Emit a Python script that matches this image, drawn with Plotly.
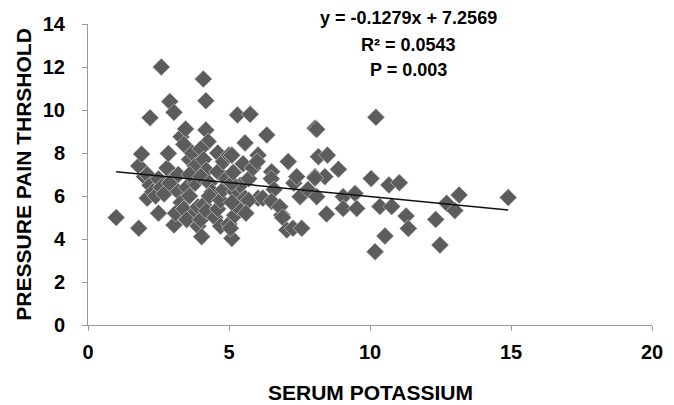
import plotly.graph_objects as go

serum_potassium = [
    1.0, 1.8, 1.8, 1.9, 2.0, 2.1, 2.2, 2.1, 2.2, 2.3, 2.4, 2.5, 2.6, 2.5, 2.6, 2.7,
    2.8, 2.9, 3.05, 2.85, 3.05, 3.0, 2.9, 3.1,
    3.2, 3.3, 3.46, 3.4, 3.2, 3.3, 3.4, 3.5, 3.6, 3.6, 3.7, 3.8, 3.8, 3.7, 3.9, 3.9, 3.5, 3.6,
    4.09, 4.18, 4.18, 4.26, 4.0, 4.1, 4.2, 4.0, 4.3, 4.4, 4.03, 4.0, 4.1, 4.2, 4.3, 4.6, 4.5,
    4.6, 4.7, 4.6, 4.8, 4.8, 4.9, 4.7,
    5.0, 5.1, 5.1, 5.0, 5.2, 5.3, 5.2, 5.4, 5.3, 5.57, 5.57, 5.5, 5.7, 5.85, 5.75, 6.03, 6.0,
    6.03, 5.7, 5.6, 6.2, 5.1, 5.15, 5.1, 5.05,
    6.34, 6.51, 6.5, 6.6, 6.51, 6.87, 6.8, 6.9, 7.1, 7.05, 7.27, 7.58, 7.3, 7.52, 7.4,
    7.8, 8.05, 8.11, 8.17, 8.49, 8.88, 8.05, 8.4, 8.11, 8.46, 8.05,
    9.05, 9.47, 9.05, 9.53, 10.21, 10.04, 10.67, 11.04, 10.35, 10.77, 11.28, 11.36, 10.53, 10.18,
    12.33, 12.48, 12.72, 13.01, 13.16, 14.9,
]
pressure_pain_threshold = [
    5.0, 4.5, 7.4, 7.95, 6.9, 7.0, 9.64, 5.9, 6.5, 6.2, 6.0, 5.2, 12.0, 6.8, 6.4, 6.1,
    7.3, 10.39, 9.89, 7.98, 4.65, 6.8, 6.6, 5.2,
    7.0, 8.76, 9.12, 8.4, 6.2, 5.7, 5.4, 6.4, 6.0, 7.7, 8.0, 7.4, 6.6, 5.1, 4.6, 5.5, 4.9, 7.0,
    11.44, 10.43, 9.07, 8.53, 8.2, 7.7, 7.2, 6.9, 6.6, 6.2, 4.11, 4.9, 5.6, 5.3, 6.0, 7.13, 5.0,
    5.4, 5.8, 8.0, 6.3, 7.6, 6.8, 4.6,
    7.9, 7.9, 4.03, 4.7, 5.1, 5.5, 6.2, 6.5, 9.77, 8.47, 5.9, 7.5, 6.8, 7.3, 9.8, 7.9, 7.6,
    5.9, 5.8, 5.2, 5.9, 6.6, 7.1, 5.7, 4.5,
    8.84, 7.13, 6.8, 6.3, 5.75, 5.12, 5.5, 5.0, 7.6, 4.42, 4.5, 4.5, 6.6, 5.97, 6.9,
    6.3, 9.15, 9.1, 7.83, 7.9, 7.24, 6.9, 6.9, 5.97, 5.16, 6.84,
    5.97, 6.12, 5.42, 5.42, 9.66, 6.81, 6.51, 6.62, 5.51, 5.51, 5.07, 4.49, 4.14, 3.41,
    4.91, 3.72, 5.66, 5.32, 6.05, 5.93,
]

slope = -0.1279
intercept = 7.2569
trend_x = [min(serum_potassium), max(serum_potassium)]
trend_y = [slope * v + intercept for v in trend_x]

x_ticks = [0, 5, 10, 15, 20]
y_ticks = [0, 2, 4, 6, 8, 10, 12, 14]
stat_lines = ["y = -0.1279x + 7.2569", "R² = 0.0543", "P = 0.003"]
stat_y = [1.02, 0.930, 0.847]
x_title = "SERUM POTASSIUM"
y_title = "PRESSURE PAIN THRSHOLD"

font_family = "Liberation Sans, Arial, sans-serif"
bold = lambda s: dict(family=font_family, size=s, color="black", weight="bold")

fig = go.Figure()
fig.add_trace(go.Scatter(
    x=serum_potassium, y=pressure_pain_threshold, mode="markers",
    marker=dict(symbol="diamond", size=13.5, color="#5c5c5c",
                line=dict(width=0.6, color="#d8d8d8")),
    showlegend=False, cliponaxis=False, hoverinfo="skip",
))
fig.add_trace(go.Scatter(
    x=trend_x, y=trend_y, mode="lines",
    line=dict(color="#111111", width=1.5), showlegend=False, hoverinfo="skip",
))

for txt, yy in zip(stat_lines, stat_y):
    fig.add_annotation(x=0.569, y=yy, xref="paper", yref="paper", text="<b>%s</b>" % txt,
                       showarrow=False, font=bold(18), yanchor="middle")

fig.add_annotation(x=0.5, y=-0.2226, xref="paper", yref="paper", text="<b>%s</b>" % x_title,
                   showarrow=False, font=bold(21), yanchor="middle")
fig.add_annotation(x=-0.115, y=0.5, xref="paper", yref="paper", text="<b>%s</b>" % y_title,
                   showarrow=False, font=bold(21), textangle=-90, xanchor="center")

axis_common = dict(
    showgrid=False, zeroline=False, showline=True, linecolor="#9a9a9a", linewidth=1,
    ticks="outside", tickcolor="#9a9a9a", ticklen=5, automargin=False,
    tickfont=bold(20),
)
fig.update_xaxes(range=[0, 20], tickvals=x_ticks, ticktext=["<b>%d</b>" % v for v in x_ticks],
                 ticklabelstandoff=4, **axis_common)
fig.update_yaxes(range=[0, 14], tickvals=y_ticks, ticktext=["<b>%d</b>" % v for v in y_ticks],
                 ticklabelstandoff=13, **axis_common)

fig.update_layout(
    width=674, height=405,
    margin=dict(l=88, r=22, t=24, b=80),
    plot_bgcolor="white", paper_bgcolor="white",
)

fig.write_html(
    "out.html",
    config={"displayModeBar": False},
    post_script="document.body.style.margin='0';document.body.style.overflow='hidden';",
)
